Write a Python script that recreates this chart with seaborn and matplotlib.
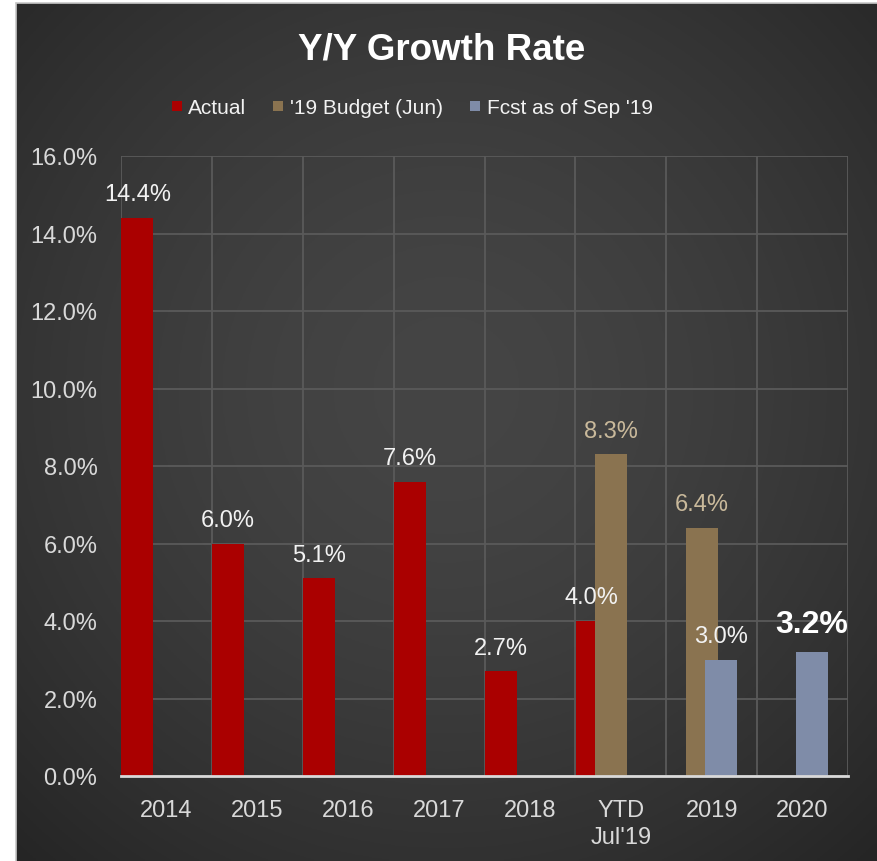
import numpy as np
import pandas as pd
import matplotlib
matplotlib.use("Agg")
import matplotlib.pyplot as plt
from matplotlib.lines import Line2D
from matplotlib.ticker import PercentFormatter, MultipleLocator, FixedLocator
import seaborn as sns

# chart data (growth rate in %)
periods = ["2014", "2015", "2016", "2017", "2018", "YTD\nJul'19", "2019", "2020"]
actual = [14.4, 6.0, 5.1, 7.6, 2.7, 4.0, np.nan, np.nan]
budget = [np.nan, np.nan, np.nan, np.nan, np.nan, 8.3, 6.4, np.nan]
forecast = [np.nan, np.nan, np.nan, np.nan, np.nan, np.nan, 3.0, 3.2]
series_names = ["Actual", "'19 Budget (Jun)", "Fcst as of Sep '19"]
highlight_period = "2020"

# styling
series_colors = ["#AA0000", "#8A7350", "#7F8CA8"]
label_colors = ["#F2F2F2", "#C9B99B", "#F2F2F2"]
bar_offsets = [-0.32, -0.11, 0.10]   # Excel style overlapping clusters
tick_color = "#D9D9D9"
grid_color = "#5A5A5A"

sns.set_theme(style="ticks")
plt.rcParams["font.family"] = ["Liberation Sans", "DejaVu Sans"]

df = pd.DataFrame({
    "period": periods * 3,
    "series": np.repeat(series_names, len(periods)),
    "value": actual + budget + forecast,
}).dropna()

W, H = 877, 862
fig = plt.figure(figsize=(W / 100, H / 100), dpi=100, facecolor="white")

# chart area with a radial gradient
bg = fig.add_axes([16 / W, 0, 1 - 16 / W, 1 - 4 / H], zorder=-5)
yy, xx = np.mgrid[0:1:300j, 0:1:300j]
r = np.hypot(xx - 0.5, yy - 0.45) / np.hypot(0.5, 0.55)
g = (69 - 32 * r ** 1.6) / 255
bg.imshow(np.dstack([g, g, g]), extent=[0, 1, 0, 1], aspect="auto")
bg.set_axis_off()
fig.add_artist(Line2D([16 / W, 16 / W], [0, 1 - 4 / H], color="#C8C8C8", lw=1.2, transform=fig.transFigure))
fig.add_artist(Line2D([16 / W, 1], [1 - 4 / H, 1 - 4 / H], color="#C8C8C8", lw=1.2, transform=fig.transFigure))

ax = fig.add_axes([121 / W, 1 - 777 / H, 727 / W, 620 / H])
ax.set_facecolor("none")

sns.barplot(data=df, x="period", y="value", hue="series", order=periods,
            hue_order=series_names, palette=series_colors, dodge=False,
            width=0.35, saturation=1, errorbar=None, legend=False,
            linewidth=0, ax=ax)

for container, off, lc in zip(ax.containers, bar_offsets, label_colors):
    for p in container:
        p.set_x(p.get_x() + off)
    texts = ax.bar_label(container, fmt="{:.1f}%", padding=9, color=lc, fontsize=17)
    for p, t in zip(container, texts):
        idx = int(round(p.get_x() + p.get_width() / 2 - off))
        if periods[idx] == highlight_period:
            t.set_fontsize(23)
            t.set_fontweight("bold")
            t.set_color("white")

ax.set_xlim(-0.5, len(periods) - 0.5)
ax.set_ylim(0, 16)
ax.yaxis.set_major_locator(MultipleLocator(2))
ax.yaxis.set_major_formatter(PercentFormatter(xmax=100, decimals=1))
ax.xaxis.set_minor_locator(FixedLocator(np.arange(len(periods) + 1) - 0.5))
ax.set_axisbelow(True)
ax.grid(axis="y", which="major", color=grid_color, lw=1.3)
ax.grid(axis="x", which="minor", color=grid_color, lw=1.3)
ax.grid(axis="x", which="major", visible=False)
ax.set_xlabel("")
ax.set_ylabel("")

for s in ["top", "right", "left"]:
    ax.spines[s].set_visible(False)
ax.spines["bottom"].set_color(tick_color)
ax.spines["bottom"].set_linewidth(2)
ax.spines["bottom"].set_zorder(5)
ax.tick_params(axis="both", which="both", length=0, colors=tick_color, labelsize=17)
ax.tick_params(axis="x", pad=16.5)
ax.tick_params(axis="y", pad=17)
for t in ax.get_xticklabels():
    t.set_linespacing(1.3)

fig.text(442 / W, 1 - 59 / H, "Y/Y Growth Rate", ha="center", va="baseline",
         fontsize=26.5, fontweight="bold", color="white")

handles = [Line2D([], [], marker="s", linestyle="none", markersize=7.5,
                  markerfacecolor=c, markeredgewidth=0) for c in series_colors]
fig.legend(handles, series_names, loc="center", bbox_to_anchor=(412 / W, 1 - 109 / H),
           ncol=3, frameon=False, fontsize=15, labelcolor="#F2F2F2",
           handlelength=0.5, handletextpad=0.3, columnspacing=1.3)

fig.savefig("out.png", dpi=100, facecolor="white")
